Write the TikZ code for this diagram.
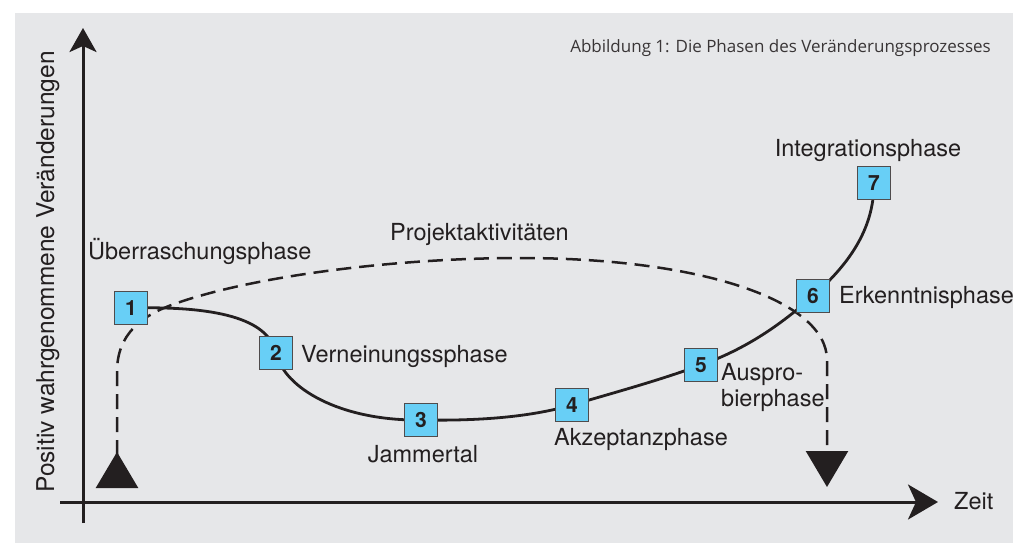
\documentclass[tikz,border=0pt]{standalone}
\usepackage{fontspec}
\setmainfont{TeX Gyre Heros}
\newfontfamily\captionfont{Open Sans}
\usetikzlibrary{arrows.meta}

\definecolor{panelgray}{RGB}{230,231,233}
\definecolor{phaseblue}{RGB}{104,207,246}
\definecolor{inkdark}{RGB}{35,31,32}

\pgfdeclarelayer{bg}
\pgfdeclarelayer{lines}
\pgfsetlayers{bg,lines,main}

\begin{document}
	\begin{tikzpicture}[
		x=1pt, y=-1pt,
		axis/.style={line width=3pt, draw=inkdark},
		curve/.style={line width=2.8pt, draw=inkdark},
		projline/.style={line width=2.5pt, draw=inkdark, dash pattern=on 15pt off 8pt},
		phasebox/.style={
			draw=inkdark!80,
			line width=1.1pt,
			fill=phaseblue,
			minimum size=33pt,
			inner sep=0pt,
			text=inkdark,
			font=\bfseries\fontsize{21}{21}\selectfont
		},
		label/.style={
			text=inkdark,
			inner sep=0pt,
			font=\fontsize{23.5}{26}\selectfont
		}
		]
		
		\useasboundingbox (0,0) rectangle (1013,543);
		\begin{pgfonlayer}{bg}
			\fill[panelgray] (15,13) rectangle (1013,543);
		\end{pgfonlayer}
		
		% axes
		\coordinate (yfoot) at (83,523);
		\coordinate (ytop) at (83,28);
		\coordinate (xfoot) at (60,502);
		\coordinate (xtip) at (938,502);
		\draw[axis, -{Stealth[length=24pt, width=27pt, inset=6pt]}] (yfoot) -- (ytop);
		\draw[axis, -{Stealth[length=30pt, width=35pt, inset=8pt]}] (xfoot) -- (xtip);
		
		\node[label, anchor=base west] (zeit) at (954,509) {Zeit};
		\node[label, anchor=base, rotate=90, font=\fontsize{24.5}{26}\selectfont] (ylab) at (54,272) {Positiv wahrgenommene Veränderungen};
		\node[text=inkdark!90, inner sep=0pt, anchor=base east, font=\captionfont\fontsize{17}{19}\selectfont]
			(caption) at (991,53) {Abbildung 1: Die Phasen des Veränderungsprozesses};
		
		% phases
		\node[phasebox] (p1) at (131,308) {1};
		\node[phasebox] (p2) at (276,353) {2};
		\node[phasebox] (p3) at (421,420) {3};
		\node[phasebox] (p4) at (572,405) {4};
		\node[phasebox] (p5) at (701,365) {5};
		\node[phasebox] (p6) at (813,296) {6};
		\node[phasebox] (p7) at (874,183) {7};
		
		\node[label, anchor=base west] (l1) at (88,259) {Überraschungsphase};
		\node[label, anchor=base west] (l2) at (301,362) {Verneinungssphase};
		\node[label, anchor=base] (l3) at (423,462) {Jammertal};
		\node[label, anchor=base west] (l4) at (554,445) {Akzeptanzphase};
		\node[label, anchor=north west, align=left, yshift=1pt] (l5) at (721,364) {Auspro-\\bierphase};
		\node[label, anchor=base west] (l6) at (839,303) {Erkenntnisphase};
		\node[label, anchor=base] (l7) at (868,157) {Integrationsphase};
		\node[label, anchor=base west] (proj) at (390,240) {Projektaktivitäten};
		
		% curve of the phases, behind the boxes
		\begin{pgfonlayer}{lines}
			\draw[curve] (p1.center) .. controls (215,306) and (268,318) .. (p2.center)
				.. controls (284,388) and (340,421) .. (p3.center)
				.. controls (480,421) and (530,417) .. (p4.center)
				.. controls (620,391) and (660,380) .. (p5.center)
				.. controls (740,351) and (775,330) .. (p6.center)
				.. controls (848,265) and (874,230) .. (p7.center);
			
			\coordinate (projstart) at (117,488);
			\coordinate (projend) at (827,487);
			\draw[projline, {Triangle[reversed, length=36pt, width=42pt]}-{Triangle[length=36pt, width=42pt]}]
				(projstart) -- (117,372)
				.. controls (117,335) and (140,315) .. (180,302)
				.. controls (260,275) and (400,258) .. (520,258)
				.. controls (700,258) and (827,300) .. (827,360)
				-- (projend);
		\end{pgfonlayer}
		
	\end{tikzpicture}
\end{document}
